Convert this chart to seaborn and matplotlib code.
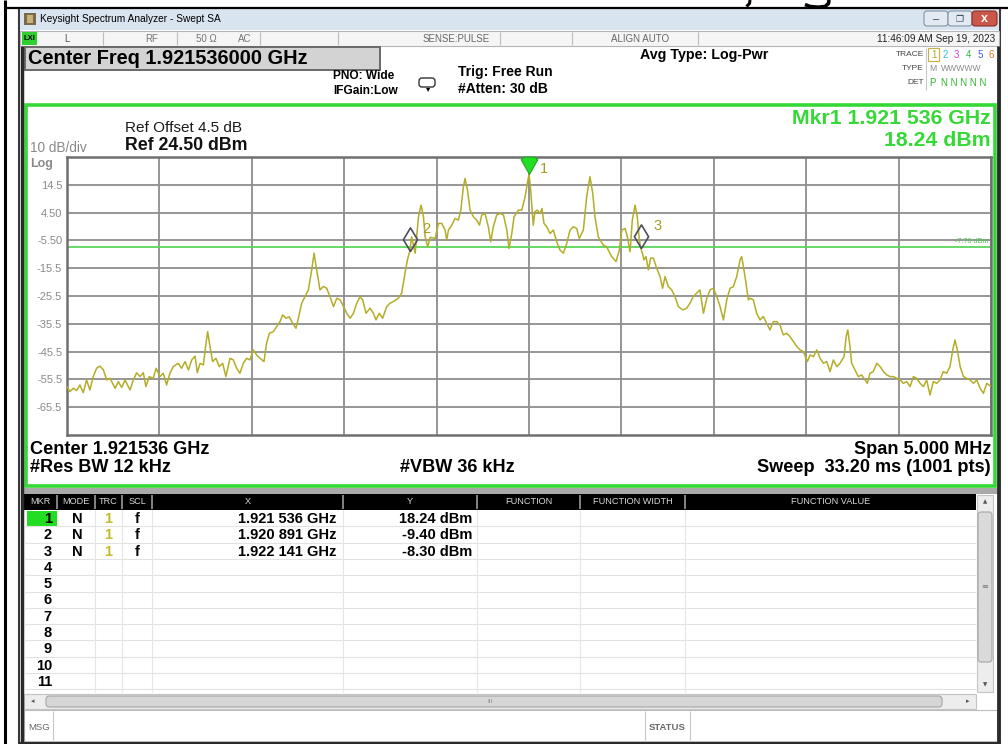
import numpy as np
import pandas as pd
import matplotlib
matplotlib.use("Agg")
import matplotlib.pyplot as plt
from matplotlib.patches import Rectangle, FancyBboxPatch
from matplotlib.path import Path
import seaborn as sns

# ---- data ----
CENTER_GHZ = 1.921536
SPAN_KHZ = 5000
REF_DBM = 24.5
DB_DIV = 10
DISPLAY_LINE = -7.76

# trace: offset from centre (kHz) and level (dBm)
freq_khz = [
    -2500, -2484, -2466, -2448, -2430, -2412, -2394, -2376, -2358, -2340, -2322, -2303,
    -2285, -2267, -2240, -2222, -2204, -2186, -2159, -2141, -2123, -2105, -2087, -2073,
    -2055, -2033, -2018, -1997, -1979, -1961, -1943, -1925, -1898, -1880, -1861, -1843,
    -1825, -1807, -1795, -1780, -1762, -1750, -1739, -1726, -1712, -1694, -1676, -1658,
    -1640, -1618, -1600, -1582, -1564, -1546, -1528, -1510, -1492, -1474, -1456, -1434,
    -1420, -1405, -1383, -1365, -1347, -1333, -1315, -1297, -1279, -1261, -1248,
    -1230, -1212, -1194, -1176, -1163, -1149, -1131, -1113, -1095, -1077, -1058, -1040,
    -1022, -1004, -986, -968, -950, -932, -914, -900, -882, -860, -842, -828, -810, -792,
    -770, -752, -734, -707, -689, -671, -658, -645, -635, -616, -598, -584, -571, -562,
    -548, -535, -508, -490, -472, -454, -445, -436, -418, -400, -382, -369, -355, -346,
    -333, -319, -301, -283, -268, -256, -238, -220, -207, -193, -175, -156, -138, -120,
    -108, -93, -81, -57, -39, -21, -9, 0,
    9, 23, 32, 45, 60, 70, 81, 96, 114, 132, 150, 168, 186, 204, 222, 240, 258, 272, 294,
    312, 330, 345, 357, 375, 402, 420, 447, 471, 489, 502, 520, 532, 547, 559, 574, 586,
    597, 605, 615, 622, 633, 646, 658, 673, 691, 709, 723, 736, 754, 772, 790, 808, 832,
    853, 871, 889, 907, 925, 944, 962, 980, 998, 1016, 1034, 1052, 1070, 1088, 1106, 1124,
    1142, 1151, 1169, 1187,
    1196, 1214, 1232, 1250, 1268, 1286, 1304, 1322, 1340, 1358, 1376, 1394, 1412, 1431,
    1449, 1467, 1485, 1506, 1521, 1539, 1557, 1575, 1593, 1611, 1629, 1647, 1665, 1683,
    1705, 1716, 1725, 1737, 1746, 1764, 1782, 1800, 1818, 1831, 1845, 1863, 1882, 1900,
    1918, 1936, 1954, 1972, 1990, 2008, 2026, 2044, 2062, 2080, 2098, 2116, 2134, 2152,
    2170, 2188, 2206, 2224, 2242, 2260, 2278, 2293, 2305, 2318, 2333, 2351, 2369, 2387,
    2405, 2423, 2441, 2459, 2477, 2500,
]
level_dbm = [
    -58.1, -59.9, -58.7, -59.5, -57.5, -60.3, -55.7, -59.3, -54.5, -51.5, -50.7, -52.1,
    -55.7, -55.1, -58.7, -56.3, -58.4, -55.7, -59.3, -55.7, -53.1, -54.5, -53.1, -58.1,
    -54.5, -55.1, -51.5, -54.5, -53.3, -57.5, -53.3, -50.9, -49.7, -51.5, -49.1, -52.1,
    -48.5, -47.1, -53.1, -49.7, -50.3, -43.7, -38.3, -43.7, -49.1, -47.9, -50.9, -49.7,
    -54.5, -47.9, -48.5, -51.5, -53.3, -49.7, -47.9, -48.5, -44.9, -46.7, -47.9, -49.1,
    -42.5, -38.9, -38.3, -36.5, -34.7, -32.3, -33.5, -33.0, -35.3, -37.1, -33.5,
    -28.1, -25.7, -23.3, -16.1, -10.1, -16.1, -23.3, -22.1, -22.7, -25.7, -29.3, -26.3,
    -26.9, -29.3, -31.7, -33.5, -31.7, -28.1, -25.7, -26.9, -31.7, -29.9, -31.7, -34.1,
    -31.7, -33.5, -29.3, -28.1, -27.5, -26.3, -24.5, -17.3, -12.5, -9.40, -4.2, -10.1,
    3.0, 7.2, 3.0, -4.2, -7.8, -4.4, -4.8, 0.6, 0.6, -1.8, -5.4, -1.8, 0.0, 2.4, 1.8,
    5.4, 13.8, 16.8, 12.6, 5.4, 3.0, 1.8, 0.0, 3.6, 4.2, -0.6, -6.0, -0.6, 3.6, 4.2, 3.6,
    -1.8, -8.4, -3.0, 3.0, 5.4, 5.4, 10.2, 15.0, 18.24,
    12.6, 0.0, 4.8, 5.4, 4.2, 6.0, 0.6, -0.6, -3.0, -1.8, -6.0, -9.0, -10.1, -6.6, -1.8,
    -0.6, -1.2, -4.8, -1.8, 10.2, 17.4, 11.4, 3.0, -4.2, -7.2, -7.8, -11.3, -13.1, -9.0,
    -1.8, -1.2, -4.2, -9.6, 1.8, 7.2, 3.0, -5.4, -8.30, -10.5, -12.5, -11.3, -16.1,
    -11.9, -11.9, -15.5, -18.5, -22.7, -18.5, -22.1, -23.3, -25.7, -29.3, -30.5, -29.9,
    -28.1, -25.7, -24.5, -23.3, -31.7, -26.3, -23.3, -22.7, -25.7, -29.3, -34.1, -26.9,
    -22.7, -22.1, -18.5, -12.5, -11.3, -18.5, -26.9,
    -26.3, -26.9, -31.7, -34.1, -32.9, -35.3, -37.7, -34.7, -34.7, -35.9, -39.5, -38.9,
    -40.1, -41.9, -43.7, -44.9, -45.5, -49.1, -46.7, -47.3, -44.9, -47.9, -49.7, -49.1,
    -52.7, -48.5, -50.9, -49.7, -47.3, -40.1, -37.7, -43.7, -49.7, -52.1, -54.5, -53.9,
    -55.7, -56.9, -53.3, -52.7, -49.7, -50.9, -52.7, -53.9, -54.5, -54.5, -55.1, -55.7,
    -56.9, -56.3, -58.1, -54.5, -55.1, -56.9, -58.1, -55.7, -61.1, -56.3, -56.9, -55.7,
    -52.7, -53.3, -50.9, -44.9, -41.3, -44.9, -50.9, -54.5, -55.1, -55.7, -56.9, -55.7,
    -58.7, -60.5, -56.9, -58.1,
]

mkr_num = [1, 2, 3]
mkr_freq_ghz = [1.921536, 1.920891, 1.922141]
mkr_dbm = [18.24, -9.40, -8.30]
mkr_x_text = ["1.921 536 GHz", "1.920 891 GHz", "1.922 141 GHz"]
mkr_y_text = ["18.24 dBm", "-9.40 dBm", "-8.30 dBm"]
ytick_text = ["14.5", "4.50", "-5.50", "-15.5", "-25.5", "-35.5", "-45.5", "-55.5", "-65.5"]
table_cols = ["MKR", "MODE", "TRC", "SCL", "X", "Y", "FUNCTION", "FUNCTION WIDTH", "FUNCTION VALUE"]

# ---- colours ----
GREEN = "#35d935"
TRACE = "#b3ad28"
GRID = "#8e8e8e"
NARROW = ["Liberation Sans Narrow", "Liberation Sans", "DejaVu Sans"]

sns.set_theme(style="white")
plt.rcParams["font.family"] = ["Liberation Sans", "DejaVu Sans"]

W, H = 1008, 744
fig = plt.figure(figsize=(W / 100, H / 100), dpi=100)
bg = fig.add_axes([0, 0, 1, 1])
bg.set_xlim(0, W)
bg.set_ylim(H, 0)
bg.axis("off")


def box(x0, y0, x1, y1, fc, ec="none", lw=0, z=1, rounded=False):
    if rounded:
        p = FancyBboxPatch((x0, y0), x1 - x0, y1 - y0, boxstyle="round,pad=0,rounding_size=3",
                           facecolor=fc, edgecolor=ec, linewidth=lw, zorder=z)
    else:
        p = Rectangle((x0, y0), x1 - x0, y1 - y0, facecolor=fc, edgecolor=ec, linewidth=lw, zorder=z)
    bg.add_patch(p)


def txt(x, y, s, size=9, color="black", weight="normal", ha="left", va="center", family=None, z=6):
    kw = {}
    if family:
        kw["family"] = family
    bg.text(x, y, s, fontsize=size, color=color, fontweight=weight, ha=ha, va=va, zorder=z, **kw)


def line(xs, ys, color, lw, z=3):
    bg.plot(xs, ys, color=color, lw=lw, zorder=z, solid_capstyle="butt")


# document frame around the screenshot (with the cut-off glyph tails above it)
line([5, 5], [0, H], "black", 2.2)
line([5, W], [8, 8], "black", 1.6)
line([750, 749.5, 746.5], [0, 3.5, 6.5], "black", 2.2)
line([829, 828.5, 825, 818, 810, 805], [0, 3.5, 6.5, 7.2, 6.5, 4.5], "black", 2.6)

# window frame + title bar
box(19, 9, 1000, 743, "white", ec="#3a3a3a", lw=1.5, z=0.5)
box(20, 9, 999, 30, "#d9e4f1")
box(24, 13, 36, 25, "#7b6a4a")
box(27, 15, 33, 23, "#c9b27a")
txt(40, 19.5, "Keysight Spectrum Analyzer - Swept SA", size=7.3)
box(924, 11, 948, 26, "#e3e9f0", ec="#8193a8", lw=0.8, rounded=True)
box(948, 11, 972, 26, "#e3e9f0", ec="#8193a8", lw=0.8, rounded=True)
box(972, 11, 997, 26, "#c9574a", ec="#8a3028", lw=0.8, rounded=True)
txt(936, 19, "–", size=8, color="#33475e", ha="center")
txt(960, 19, "❐", size=6.5, color="#33475e", ha="center", family=["DejaVu Sans"])
txt(984.5, 18.5, "x", size=9, color="white", weight="bold", ha="center")

# status row
box(20, 31, 999, 46, "#f5f5f5", ec="#b5b5b5", lw=0.8)
box(22, 32, 37, 45, "#2fcf2f")
txt(29.5, 38.5, "LXI", size=5.5, weight="bold", ha="center")
for sx in [103, 177, 260, 338, 500, 572, 698]:
    line([sx, sx], [32, 45], "#bdbdbd", 0.8)
txt(64, 38.5, "L", size=7, color="#555555", family=NARROW)
txt(145, 38.5, "RF", size=7, color="#777777", family=NARROW)
txt(196, 38.5, "50 Ω", size=7, color="#777777", family=NARROW)
txt(238, 38.5, "AC", size=7, color="#777777", family=NARROW)
txt(456, 38.5, "SENSE:PULSE", size=7, color="#666666", ha="center", family=NARROW)
txt(640, 38.5, "ALIGN AUTO", size=7, color="#666666", ha="center", family=NARROW)
txt(995, 38.5, "11:46:09 AM Sep 19, 2023", size=7.2, color="#222222", ha="right", family=NARROW)

# settings area
box(25, 47, 380, 70, "#d3d3d3", ec="#6a6a6a", lw=1.4)
txt(28, 59, "Center Freq 1.921536000 GHz", size=14.4, weight="bold")
txt(333, 76, "PNO: Wide", size=8.6, weight="bold", family=NARROW)
txt(333, 91, "IFGain:Low", size=8.6, weight="bold", family=NARROW)
box(419, 78, 435, 87, "white", ec="#333333", lw=1.0, rounded=True)
txt(428, 89, "▾", size=6, ha="center", family=["DejaVu Sans"])
txt(458, 72, "Trig: Free Run", size=10, weight="bold", family=NARROW)
txt(458, 89, "#Atten: 30 dB", size=10, weight="bold", family=NARROW)
txt(640, 55, "Avg Type: Log-Pwr", size=10.3, weight="bold", family=NARROW)
txt(924, 54, "TRACE", size=6, color="#444444", ha="right", family=NARROW)
txt(924, 68, "TYPE", size=6, color="#444444", ha="right", family=NARROW)
txt(924, 82, "DET", size=6, color="#444444", ha="right", family=NARROW)
line([926, 926], [48, 90], "#c8c8c8", 0.8)
box(928, 48, 939, 61, "none", ec="#c8b040", lw=0.8)
for i, c in enumerate(["#b8a820", "#2fb7e6", "#e03ad8", "#38b838", "#3a5cf0", "#e07a1a"]):
    txt(933.5 + i * 11.6, 54.5, str(i + 1), size=7, color=c, ha="center", family=NARROW)
txt(929, 68.5, "M", size=6.2, color="#8a8a8a", family=NARROW)
txt(941, 68.5, "WWWWW", size=6.2, color="#8a8a8a", family=NARROW)
txt(929, 83, "P", size=7, color="#33b533", family=NARROW)
txt(941, 83, "N N N N N", size=7, color="#33b533", family=NARROW)

# left/right window edges
line([22, 22], [46, 743], "#2a2a2a", 2.5)
line([998, 998], [46, 743], "#2a2a2a", 2.0)

# graph panel
box(25.5, 104.5, 994.5, 486, "white", ec=GREEN, lw=2.6, z=1.5)
txt(125, 128, "Ref Offset 4.5 dB", size=11, color="#1a1a1a")
txt(125, 146, "Ref 24.50 dBm", size=12.8, weight="bold", color="#111111")
txt(30, 147.5, "10 dB/div", size=9.8, color="#8a8a8a")
txt(30, 163.5, "Log", size=9, weight="bold", color="#8a8a8a")
txt(991, 119, "Mkr1 1.921 536 GHz", size=15.3, weight="bold", color=GREEN, ha="right")
txt(991, 140, "18.24 dBm", size=15.3, weight="bold", color=GREEN, ha="right")
txt(30, 449, "Center 1.921536 GHz", size=13.1, weight="bold")
txt(30, 468, "#Res BW 12 kHz", size=13.1, weight="bold")
txt(400, 468, "#VBW 36 kHz", size=13.1, weight="bold")
txt(991, 449, "Span 5.000 MHz", size=13.1, weight="bold", ha="right")
txt(991, 468, "Sweep  33.20 ms (1001 pts)", size=13.1, weight="bold", ha="right")

# marker table
box(22, 488, 998, 494, "#a9a9a9")
box(24, 494, 976, 510, "black")
col_edges = [24, 57, 95, 122, 152, 343, 477, 580, 685, 976]
for k, name in enumerate(table_cols):
    x0, x1 = col_edges[k], col_edges[k + 1]
    txt((x0 + x1) / 2, 502, name, size=6.6, color="#d8d8d8", ha="center", family=NARROW)
    if k > 0:
        line([x0, x0], [495, 509], "#9a9a9a", 1.2, z=4)
box(24, 510, 976, 693, "white")
row_h = 16.3
for r in range(11):
    yy = 510 + (r + 1) * row_h
    line([24, 976], [yy, yy], "#e2e2e2", 0.8)
for cx in col_edges[2:-1]:
    line([cx, cx], [510, 692], "#e6e6e6", 0.8)
box(27, 511, 57, 527, "#22dd22", z=2)
for r in range(11):
    yc = 519 + r * row_h
    txt(52, yc, str(r + 1), size=10.5, weight="bold", ha="right")
for r, n in enumerate(mkr_num):
    yc = 519 + r * row_h
    txt(77, yc, "N", size=10.5, weight="bold", ha="center")
    txt(108, yc, "1", size=10.5, weight="bold", ha="center", color="#c4bc2a")
    txt(137, yc, "f", size=10.5, weight="bold", ha="center")
    txt(336, yc, mkr_x_text[r], size=10.5, weight="bold", ha="right")
    txt(472, yc, mkr_y_text[r], size=10.5, weight="bold", ha="right")

# scrollbars
box(977, 495, 993, 692, "#ededed", ec="#c4c4c4", lw=0.8)
box(978, 512, 992, 662, "#dadada", ec="#a5a5a5", lw=0.8, rounded=True)
txt(985, 502, "▲", size=4, color="#555555", ha="center", family=["DejaVu Sans"])
txt(985, 685, "▼", size=4, color="#555555", ha="center", family=["DejaVu Sans"])
txt(985, 587, "≡", size=6, color="#777777", ha="center", family=["DejaVu Sans"])
box(24, 694, 976, 709, "#ededed", ec="#c4c4c4", lw=0.8)
box(46, 696, 942, 707, "#d6d6d6", ec="#a5a5a5", lw=0.8, rounded=True)
txt(33, 701.5, "◂", size=5, color="#555555", ha="center", family=["DejaVu Sans"])
txt(968, 701.5, "▸", size=5, color="#555555", ha="center", family=["DejaVu Sans"])
txt(490, 701.5, "III", size=4.5, color="#888888", ha="center")

# message bar
box(24, 710, 997, 741, "white", ec="#bdbdbd", lw=0.8)
line([53, 53], [711, 740], "#c8c8c8", 0.8)
line([645, 645], [711, 740], "#c8c8c8", 0.8)
line([690, 690], [711, 740], "#c8c8c8", 0.8)
txt(28, 727, "MSG", size=6.8, color="#666666", family=NARROW)
txt(667.5, 727, "STATUS", size=6.8, color="#666666", weight="bold", ha="center", family=NARROW)
line([19, 1000], [742.5, 742.5], "#2a2a2a", 2.0)

# ---- spectrum plot ----
gx0, gx1, gy0, gy1 = 67, 991, 157, 435
ax = fig.add_axes([gx0 / W, 1 - gy1 / H, (gx1 - gx0) / W, (gy1 - gy0) / H])
ax.set_facecolor("white")
trace = pd.DataFrame({"freq_khz": freq_khz, "level_dbm": level_dbm})
sns.lineplot(data=trace, x="freq_khz", y="level_dbm", ax=ax, color=TRACE,
             linewidth=1.1, estimator=None, sort=False, zorder=3)
ax.set(xlabel="", ylabel="")
ax.set_xlim(-SPAN_KHZ / 2, SPAN_KHZ / 2)
ax.set_ylim(REF_DBM - 10 * DB_DIV, REF_DBM)
ax.set_xticks(np.arange(-SPAN_KHZ / 2, SPAN_KHZ / 2 + 1, SPAN_KHZ / 10))
ax.set_xticklabels([])
ax.set_yticks(REF_DBM - DB_DIV * np.arange(1, 10))
ax.set_yticklabels(ytick_text)
ax.tick_params(axis="both", length=0)
ax.tick_params(axis="y", labelsize=8, labelcolor="#8a8a8a", pad=3.5)
ax.grid(True, color=GRID, lw=1.3)
ax.set_axisbelow(True)
for s in ax.spines.values():
    s.set_color("#6f6f6f")
    s.set_linewidth(1.8)

ax.axhline(DISPLAY_LINE, color="#5bd65b", lw=1.3, zorder=2.5)
ax.text(SPAN_KHZ / 2 - 15, DISPLAY_LINE + 0.6, "-7.76 dBm", ha="right", va="bottom",
        fontsize=5.2, color="#4cc84c")

tri = Path([(0, 0), (-0.48, 0.85), (-0.3, 1.0), (0.3, 1.0), (0.48, 0.85), (0, 0)])
dia = Path([(0, 0), (0.3, 0.5), (0, 1.0), (-0.3, 0.5), (0, 0)])
for n, f, lv in zip(mkr_num, mkr_freq_ghz, mkr_dbm):
    xk = (f - CENTER_GHZ) * 1e6
    if n == 1:
        ax.plot([xk], [lv], marker=tri, markersize=25, color="#22dd22", mec="#22aa22",
                mew=0.8, zorder=5, clip_on=False)
        ax.annotate("1", (xk, lv), xytext=(8, 4), textcoords="offset points",
                    fontsize=10.5, color="#a69e22", va="center", zorder=6)
    else:
        ax.plot([xk], [lv], marker=dia, markersize=34, mfc="none", mec="#4d4d5c",
                mew=1.2, zorder=5)
        ax.annotate(str(n), (xk, lv), xytext=(9, 16), textcoords="offset points",
                    fontsize=10.5, color="#a69e22", va="center", zorder=6)

fig.savefig("out.png", dpi=100)
